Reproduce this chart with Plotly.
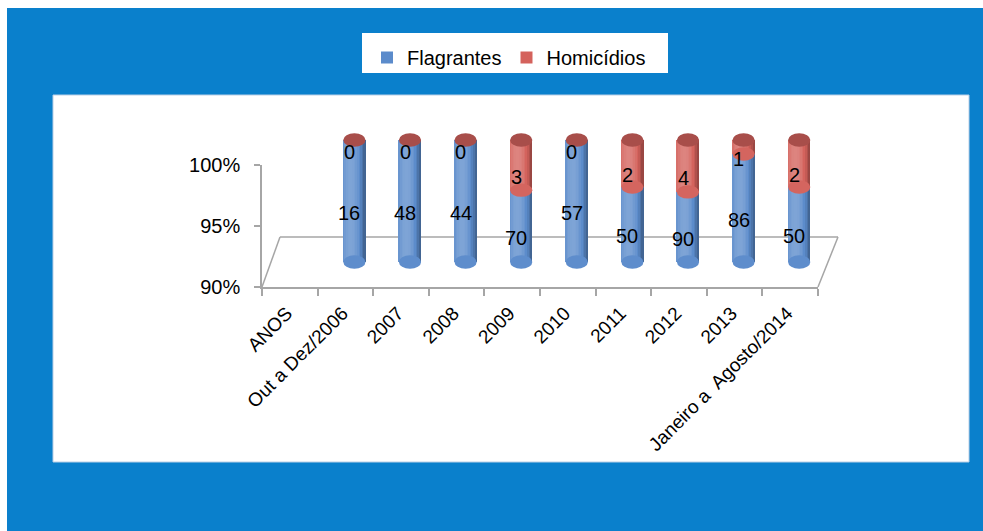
import numpy as np
import plotly.graph_objects as go

# ---------------- data ----------------
axis_categories = ["ANOS", "Out a Dez/2006", "2007", "2008", "2009", "2010",
                   "2011", "2012", "2013", "Janeiro a  Agosto/2014"]
bar_categories = axis_categories[1:]
flagrantes = [16, 48, 44, 70, 57, 50, 90, 86, 50]
homicidios = [0, 0, 0, 3, 0, 2, 4, 1, 2]
y_tick_vals = [90, 95, 100]
y_tick_text = ["90%", "95%", "100%"]
series_names = ["Flagrantes", "Homicídios"]

# ---------------- helpers ----------------
W, H = 983, 531
FONT = "Liberation Sans, Arial, sans-serif"
BG_BLUE = "#0A80CC"
BLUE = "#5B8BCB"
RED = "#D4625C"
CAP_RED = "#A84E4A"
GRID = "#A6A6A6"


def px(x):
    return x / W


def py(y):
    return 1 - y / H


def shade(hexcol, t):
    c = np.array([int(hexcol[i:i + 2], 16) for i in (1, 3, 5)], float)
    if t >= 0:
        c = c + (255 - c) * t
    else:
        c = c * (1 + t)
    c = np.clip(c, 0, 255).astype(int)
    return "rgb(%d,%d,%d)" % tuple(c)


f = np.array(flagrantes, float)
h = np.array(homicidios, float)
tot = f + h
pct_f = 100 * f / tot
pct_h = 100 * h / tot
idx = np.arange(1, len(axis_categories))  # category positions of bars

BAR_W = 0.4
fig = go.Figure()

# invisible trace so the front (visible) axes get drawn
fig.add_trace(go.Scatter(x=axis_categories, y=[None] * len(axis_categories), mode="markers",
                         showlegend=False, hoverinfo="skip", xaxis="x", yaxis="y"))

# main bars (legend entries)
fig.add_trace(go.Bar(x=bar_categories, y=pct_f - 90, base=[90] * len(f), name=series_names[0],
                     marker=dict(color=BLUE, line=dict(width=0)), width=BAR_W,
                     xaxis="x2", yaxis="y2", hoverinfo="skip"))
fig.add_trace(go.Bar(x=bar_categories, y=pct_h, base=pct_f, name=series_names[1],
                     marker=dict(color=RED, line=dict(width=0)), width=BAR_W,
                     xaxis="x2", yaxis="y2", hoverinfo="skip"))

# cylinder shading stripes
N = 14
sw = BAR_W / N
for k in range(N):
    u = -1 + (k + 0.5) * 2 / N
    t = 0.22 - 0.55 * ((u + 0.3) / 1.3) ** 2
    for base, yv, col in ((np.full(len(f), 90.0), pct_f - 90, BLUE), (pct_f, pct_h, RED)):
        fig.add_trace(go.Bar(x=bar_categories, y=yv, base=base, width=sw * 1.05,
                             offset=-BAR_W / 2 + k * sw, showlegend=False,
                             marker=dict(color=shade(col, t), line=dict(width=0)),
                             xaxis="x2", yaxis="y2", hoverinfo="skip"))

# ellipses: bottom caps, splits, top caps
EH = 0.55
shapes = []
for i, pf, ph in zip(idx, pct_f, pct_h):
    shapes.append(dict(type="circle", xref="x2", yref="y2", x0=i - BAR_W / 2, x1=i + BAR_W / 2,
                       y0=90 - EH, y1=90 + EH, fillcolor=shade(BLUE, 0.02), line=dict(width=0),
                       layer="above"))
    if ph > 0:
        shapes.append(dict(type="circle", xref="x2", yref="y2", x0=i - BAR_W / 2, x1=i + BAR_W / 2,
                           y0=pf - EH, y1=pf + EH, fillcolor=shade(RED, 0.02), line=dict(width=0),
                           layer="above"))
    shapes.append(dict(type="circle", xref="x2", yref="y2", x0=i - BAR_W / 2, x1=i + BAR_W / 2,
                       y0=100 - EH, y1=100 + EH, fillcolor=CAP_RED, line=dict(width=0),
                       layer="above"))

# background panels
bg = [
    dict(type="rect", xref="paper", yref="paper", x0=px(7), x1=px(983), y0=py(531), y1=py(8),
         fillcolor=BG_BLUE, line=dict(width=0), layer="below"),
    dict(type="rect", xref="paper", yref="paper", x0=px(53), x1=px(969), y0=py(462), y1=py(95),
         fillcolor="white", line=dict(color="#B9CFE6", width=1), layer="below"),
    dict(type="rect", xref="paper", yref="paper", x0=px(362), x1=px(668), y0=py(73), y1=py(33),
         fillcolor="white", line=dict(width=0), layer="below"),
]
# 3D floor outline
floor = [
    ((262, 287), (280, 237)),
    ((280, 237), (838, 237)),
    ((838, 237), (818, 287)),
]
for (a, b) in floor:
    bg.append(dict(type="line", xref="paper", yref="paper", x0=px(a[0]), y0=py(a[1]),
                   x1=px(b[0]), y1=py(b[1]), line=dict(color=GRID, width=1.5), layer="below"))

# data labels
annotations = []
for i, pf, fv, hv in zip(idx, pct_f, flagrantes, homicidios):
    annotations.append(dict(x=float(i), y=float((90 + pf) / 2), xref="x2", yref="y2", text=str(fv),
                            showarrow=False, xshift=-5, yshift=-12,
                            font=dict(family=FONT, size=20, color="black")))
    annotations.append(dict(x=float(i), y=float((pf + 100) / 2), xref="x2", yref="y2", text=str(hv),
                            showarrow=False, xshift=-5, yshift=-12,
                            font=dict(family=FONT, size=20, color="black")))

# y2 range/domain so that 90 -> 262px, 100 -> 140px
ppu = (262 - 140) / 10.0
y2_lo, y2_hi = 88.5, 101.5
y2_dom = [py(262 + (90 - y2_lo) * ppu), py(140 - (y2_hi - 100) * ppu)]

fig.update_layout(
    width=W, height=H,
    margin=dict(l=0, r=0, t=0, b=0, autoexpand=False),
    paper_bgcolor="white", plot_bgcolor="rgba(0,0,0,0)",
    barmode="overlay", bargap=0,
    font=dict(family=FONT, color="black"),
    showlegend=True,
    legend=dict(orientation="h", x=px(367), y=py(38), xanchor="left", yanchor="top",
                bgcolor="rgba(0,0,0,0)", font=dict(family=FONT, size=20, color="black"),
                itemwidth=30, tracegroupgap=0),
    xaxis=dict(domain=[px(262), px(818)], anchor="y", type="category", automargin=False,
               categoryorder="array", categoryarray=axis_categories,
               range=[-0.5, len(axis_categories) - 0.5],
               showline=True, linecolor=GRID, linewidth=1.5,
               ticks="outside", tickson="boundaries", ticklen=7, tickcolor=GRID, tickwidth=1.5,
               tickangle=-45, tickfont=dict(family=FONT, size=19, color="black"),
               ticklabelstandoff=6, ticklabelshift=-3,
               showgrid=False, zeroline=False, fixedrange=True),
    yaxis=dict(domain=[py(287), py(165)], anchor="x", range=[90, 100], automargin=False,
               tickvals=y_tick_vals, ticktext=y_tick_text, ticklabelstandoff=10,
               showline=True, linecolor=GRID, linewidth=1.5,
               ticks="outside", ticklen=6, tickcolor=GRID, tickwidth=1.5,
               tickfont=dict(family=FONT, size=20, color="black"),
               showgrid=False, zeroline=False, fixedrange=True),
    xaxis2=dict(domain=[px(271), px(827)], anchor="y2", type="category", automargin=False,
                categoryorder="array", categoryarray=axis_categories,
                range=[-0.5, len(axis_categories) - 0.5], visible=False, fixedrange=True),
    yaxis2=dict(domain=y2_dom, anchor="x2", range=[y2_lo, y2_hi], visible=False,
                automargin=False, fixedrange=True),
    shapes=bg + shapes,
    annotations=annotations,
)

fig.write_html("out.html")
